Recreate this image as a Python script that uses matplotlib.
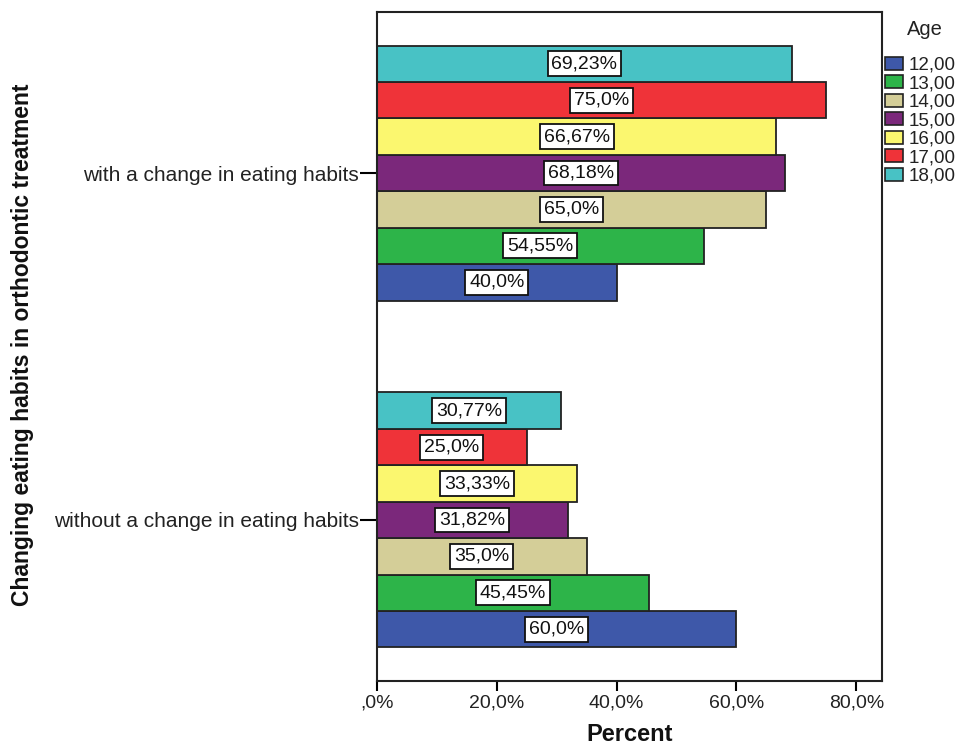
import matplotlib
matplotlib.use("Agg")
import matplotlib.pyplot as plt
import numpy as np
from matplotlib.patches import Patch

plt.rcParams['font.family'] = ['Liberation Sans', 'DejaVu Sans']

categories = ["with a change in eating habits", "without a change in eating habits"]
ages = ["12,00", "13,00", "14,00", "15,00", "16,00", "17,00", "18,00"]
# percent per age group, per category
with_change = [40.0, 54.55, 65.0, 68.18, 66.67, 75.0, 69.23]
without_change = [60.0, 45.45, 35.0, 31.82, 33.33, 25.0, 30.77]
value_labels_with = ["40,0%", "54,55%", "65,0%", "68,18%", "66,67%", "75,0%", "69,23%"]
value_labels_without = ["60,0%", "45,45%", "35,0%", "31,82%", "33,33%", "25,0%", "30,77%"]
colors = ["#3E58A9", "#2DB449", "#D4CE98", "#7B287B", "#FBF76F", "#EF3339", "#48C2C5"]
x_ticks = [0, 20, 40, 60, 80]
x_tick_labels = [",0%", "20,0%", "40,0%", "60,0%", "80,0%"]

fig = plt.figure(figsize=(9.66, 7.47), dpi=100)
ax = fig.add_axes([0.3903, 0.0884, 0.5228, 0.8955])

n = len(ages)
bar_h = 0.105
series = [with_change, without_change]
labels = [value_labels_with, value_labels_without]

for ci in range(len(categories)):
    for i in range(n):
        # age 12 at the bottom of each group, 18 on top
        y = ci + (3 - i) * bar_h
        v = series[ci][i]
        ax.barh(y, v, height=bar_h, color=colors[i], edgecolor="#222222",
                linewidth=1.3, zorder=2)
        ax.text(v / 2, y, labels[ci][i], ha="center", va="center",
                fontsize=14, color="#111111", zorder=3,
                bbox=dict(boxstyle="square,pad=0.2", facecolor="white",
                          edgecolor="#111111", linewidth=1.3))

ax.set_xlim(0, 84.3)
ax.set_ylim(1.464, -0.464)
ax.set_xticks(x_ticks)
ax.set_xticklabels(x_tick_labels, fontsize=14, color="#222222")
ax.set_yticks(range(len(categories)))
ax.set_yticklabels(categories, fontsize=15, color="#222222")
ax.tick_params(axis="x", direction="out", length=7, width=1.5, pad=3)
ax.tick_params(axis="y", direction="out", length=12, width=1.5, pad=1)
for s in ax.spines.values():
    s.set_linewidth(1.5)
    s.set_color("#222222")

fig.text(0.652, 0.017, "Percent", ha="center", va="center", fontsize=17,
         fontweight="bold", color="#111111")
fig.text(0.023, 0.538, "Changing eating habits in orthodontic treatment",
         rotation=90, ha="center", va="center", fontsize=16.5,
         fontweight="bold", color="#111111")

handles = [Patch(facecolor=c, edgecolor="#222222", linewidth=1.2) for c in colors]
leg = ax.legend(handles, ages, loc="upper left",
                bbox_to_anchor=(1.006, 0.9335), frameon=False, fontsize=13.5,
                handlelength=0.95, handleheight=0.7,
                handletextpad=0.3, labelspacing=0.075, borderaxespad=0.0,
                borderpad=0.0)
for t in leg.get_texts():
    t.set_color("#222222")
fig.text(0.957, 0.96, "Age", ha="center", va="center", fontsize=14.5,
         color="#222222")

fig.savefig("out.png", dpi=100)
